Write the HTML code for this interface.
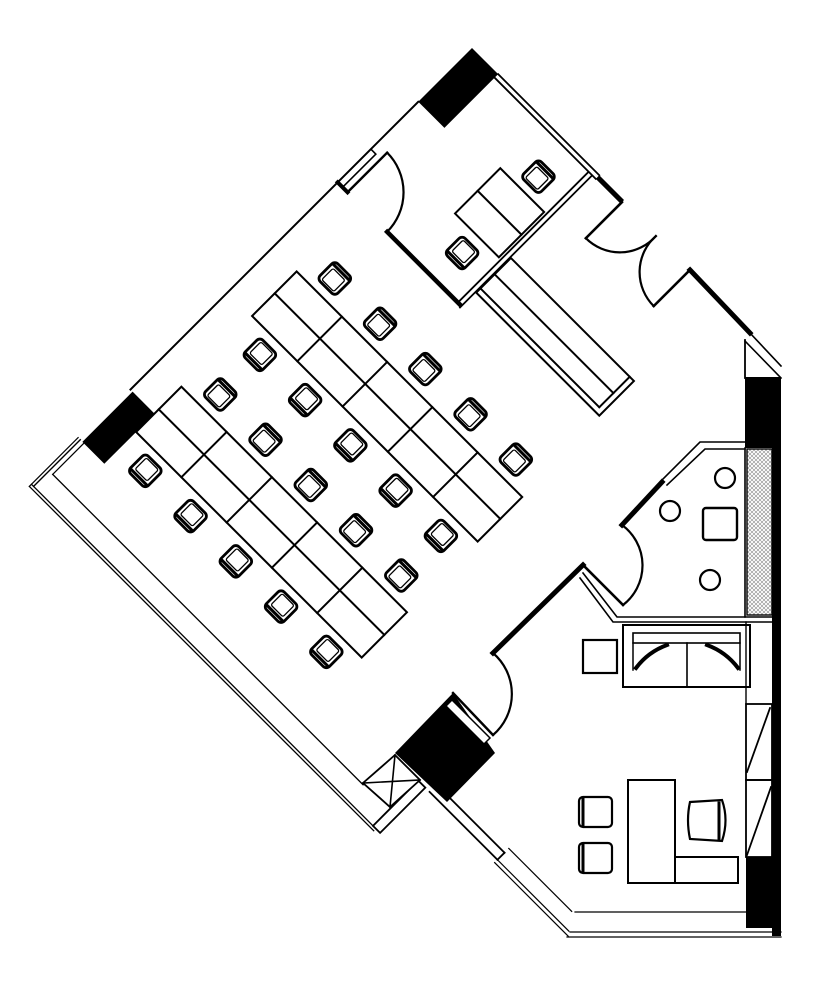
<!DOCTYPE html>
<html><head><meta charset="utf-8"><style>html,body{margin:0;padding:0;background:#fff}svg{display:block}</style></head>
<body>
<svg width="818" height="984" viewBox="0 0 818 984" xmlns="http://www.w3.org/2000/svg">
<defs>
<pattern id="hat" width="4" height="4" patternUnits="userSpaceOnUse">
<path d="M0,0 L4,4 M4,0 L0,4" stroke="#888" stroke-width="0.6"/>
</pattern>
<g id="ch">
<rect x="-12.5" y="-12.5" width="25" height="25" rx="4.5" fill="#fff" stroke="#000" stroke-width="2.8"/>
<rect x="-8.5" y="-10" width="17" height="16" rx="2" fill="none" stroke="#000" stroke-width="1.3"/>
<path d="M-11,9 L11,9" stroke="#000" stroke-width="3"/>
</g>
</defs>
<g fill="none" stroke="#000" stroke-linecap="square">

<g transform="translate(472,48) rotate(45)">
<rect x="0" y="0" width="37" height="76" fill="#000" stroke="none"/>
<line x1="37" y1="0" x2="180" y2="0" stroke-width="1.8"/>
<line x1="37" y1="5" x2="180" y2="5" stroke-width="1.8"/>
<rect x="180" y="0" width="35" height="5" fill="#000" stroke="none"/>
<line x1="215" y1="3" x2="215" y2="54" stroke-width="2.6"/>
<line x1="311" y1="3" x2="311" y2="54" stroke-width="2.6"/>
<path d="M215,54 A48,48 0 0 0 263,3" stroke-width="2.2"/>
<path d="M311,54 A48,48 0 0 1 263,3" stroke-width="2.2"/>
<line x1="0" y1="76" x2="0" y2="483" stroke-width="2"/>
<rect x="0" y="143" width="7" height="47" stroke-width="1.6"/>
<line x1="0" y1="190" x2="14" y2="190" stroke-width="4"/>
<line x1="14" y1="190" x2="14" y2="134" stroke-width="2.4"/>
<path d="M14,134 A56,56 0 0 1 70,190" stroke-width="2.2"/>
<line x1="70" y1="190" x2="173" y2="190" stroke-width="4.5"/>
<line x1="170" y1="6" x2="170" y2="190" stroke-width="1.8"/>
<line x1="175" y1="6" x2="175" y2="192" stroke-width="1.8"/>
<rect x="105" y="65" width="62" height="64" stroke-width="2"/>
<line x1="105" y1="97" x2="167" y2="97" stroke-width="2"/>
<use href="#ch" transform="translate(138,44) rotate(180)"/>
<use href="#ch" transform="translate(138,152)"/>
<rect x="176" y="121" width="174" height="49" stroke-width="2"/>
<line x1="176" y1="144" x2="344" y2="144" stroke-width="2"/>
<line x1="176" y1="164" x2="344" y2="164" stroke-width="2"/>
<line x1="344" y1="121" x2="344" y2="164" stroke-width="2"/>
<g stroke-width="2">
<rect x="34" y="282" width="319" height="63"/>
<line x1="34" y1="313" x2="353" y2="313"/>
<line x1="98" y1="282" x2="98" y2="345"/><line x1="162" y1="282" x2="162" y2="345"/>
<line x1="226" y1="282" x2="226" y2="345"/><line x1="290" y1="282" x2="290" y2="345"/>
<rect x="34" y="445" width="319" height="64"/>
<line x1="34" y1="477" x2="353" y2="477"/>
<line x1="98" y1="445" x2="98" y2="509"/><line x1="162" y1="445" x2="162" y2="509"/>
<line x1="226" y1="445" x2="226" y2="509"/><line x1="290" y1="445" x2="290" y2="509"/>
</g>
<use href="#ch" transform="translate(66,260) rotate(180)"/><use href="#ch" transform="translate(130,260) rotate(180)"/><use href="#ch" transform="translate(194,260) rotate(180)"/><use href="#ch" transform="translate(258,260) rotate(180)"/><use href="#ch" transform="translate(322,260) rotate(180)"/>
<use href="#ch" transform="translate(67,367)"/><use href="#ch" transform="translate(131,367)"/><use href="#ch" transform="translate(195,367)"/><use href="#ch" transform="translate(259,367)"/><use href="#ch" transform="translate(323,367)"/>
<use href="#ch" transform="translate(67,423) rotate(180)"/><use href="#ch" transform="translate(131,423) rotate(180)"/><use href="#ch" transform="translate(195,423) rotate(180)"/><use href="#ch" transform="translate(259,423) rotate(180)"/><use href="#ch" transform="translate(323,423) rotate(180)"/>
<use href="#ch" transform="translate(68,530)"/><use href="#ch" transform="translate(132,530)"/><use href="#ch" transform="translate(196,530)"/><use href="#ch" transform="translate(260,530)"/><use href="#ch" transform="translate(324,530)"/>
<rect x="3" y="483" width="31" height="71" fill="#000" stroke="none"/>
<line x1="0" y1="554" x2="0" y2="620" stroke-width="1.4"/>
<line x1="-3" y1="554" x2="-3" y2="623" stroke-width="1.2"/>
<line x1="-3" y1="620" x2="480" y2="620" stroke-width="1.3"/>
<line x1="-3" y1="623" x2="484" y2="623" stroke-width="1.3"/>
<line x1="5" y1="598" x2="444" y2="598" stroke-width="1.3"/>
<line x1="5" y1="554" x2="5" y2="598" stroke-width="1.2"/>
<rect x="480" y="556" width="10" height="64" stroke-width="1.8"/>
<line x1="496" y1="546" x2="592" y2="546" stroke-width="1.8"/>
<line x1="496" y1="556" x2="592" y2="556" stroke-width="1.8"/>
<line x1="592" y1="546" x2="592" y2="556" stroke-width="1.8"/>
<line x1="592" y1="556" x2="693" y2="556" stroke-width="1.2"/>
<line x1="592" y1="560" x2="696" y2="560" stroke-width="1.2"/>
<line x1="592" y1="540" x2="681" y2="540" stroke-width="1.2"/>
</g>

<line x1="690" y1="270" x2="750" y2="333" stroke-width="5"/>
<line x1="750" y1="333" x2="781" y2="366" stroke-width="1.6"/>
<line x1="745" y1="341" x2="781" y2="378" stroke-width="1.6"/>
<line x1="745" y1="340" x2="745" y2="378" stroke-width="1.8"/>
<rect x="745" y="377" width="36" height="71" fill="#000" stroke="none"/>
<rect x="747" y="449" width="25" height="166" fill="url(#hat)" stroke="#000" stroke-width="1.4"/>
<rect x="772" y="448" width="9" height="488" fill="#000" stroke="none"/>
<line x1="745" y1="448" x2="745" y2="617" stroke-width="1.6"/>

<polyline points="745,442 700,442 662,480" stroke-width="1.6"/>
<polyline points="745,449 705,449 667,485" stroke-width="1.6"/>
<line x1="662" y1="482" x2="622" y2="525" stroke-width="5"/>
<path d="M622,525 A50,50 0 0 1 623,605" stroke-width="2.2"/>
<line x1="623" y1="605" x2="583" y2="565" stroke-width="2.6"/>
<line x1="583" y1="565" x2="493" y2="653" stroke-width="5"/>
<polyline points="583,573 617,617 772,617" stroke-width="1.6"/>
<polyline points="580,578 613,622 772,622" stroke-width="1.6"/>
<circle cx="725" cy="478" r="10" stroke-width="2.2"/>
<circle cx="670" cy="511" r="10" stroke-width="2.2"/>
<circle cx="710" cy="580" r="10" stroke-width="2.2"/>
<rect x="703" y="508" width="34" height="32" rx="3" stroke-width="2.4"/>

<rect x="583" y="640" width="34" height="33" stroke-width="2.2"/>
<rect x="623" y="625" width="127" height="62" stroke-width="2"/>
<rect x="633" y="633" width="107" height="10" stroke-width="1.6"/>
<line x1="633" y1="643" x2="633" y2="670" stroke-width="1.5"/>
<line x1="740" y1="643" x2="740" y2="670" stroke-width="1.5"/>
<line x1="687" y1="643" x2="687" y2="687" stroke-width="1.6"/>
<path d="M636,668 Q648,652 667,645" stroke-width="4"/>
<path d="M738,668 Q726,652 707,645" stroke-width="4"/>
<line x1="746" y1="622" x2="746" y2="704" stroke-width="1.4"/>

<rect x="746" y="704" width="26" height="76" stroke-width="1.8"/>
<line x1="747" y1="772" x2="770" y2="708" stroke-width="1.8"/>
<rect x="746" y="780" width="26" height="77" stroke-width="1.8"/>
<line x1="747" y1="855" x2="771" y2="787" stroke-width="1.8"/>
<rect x="746" y="857" width="35" height="71" fill="#000" stroke="none"/>
<rect x="628" y="780" width="47" height="103" stroke-width="2"/>
<rect x="675" y="857" width="63" height="26" stroke-width="2"/>
<g stroke-width="2.2">
<rect x="579" y="797" width="33" height="30" rx="4"/>
<line x1="583" y1="799" x2="583" y2="825" stroke-width="3"/>
<rect x="579" y="843" width="33" height="30" rx="4"/>
<line x1="583" y1="845" x2="583" y2="871" stroke-width="3"/>
<path d="M690,802 L722,800 Q729,820 722,841 L690,839 Q686,820 690,802 Z"/>
<line x1="719" y1="803" x2="719" y2="839" stroke-width="3"/>
</g>
<line x1="575" y1="912" x2="746" y2="912" stroke-width="1.2"/>
<line x1="570" y1="932" x2="781" y2="932" stroke-width="1.2"/>
<line x1="567" y1="937" x2="781" y2="937" stroke-width="1.2"/>

<polygon points="453,693 495,753 447,802 395,753" fill="#000" stroke="none"/>
<polygon points="452,700 490,738 484,744 446,706" fill="#fff" stroke="#000" stroke-width="1.5"/>
<line x1="453" y1="693" x2="493" y2="735" stroke-width="2.4"/>
<path d="M493,735 A54,54 0 0 0 493,653" stroke-width="2.2"/>
<polygon points="395,755 420,780 390,807 363,783" fill="#fff" stroke="#000" stroke-width="1.8"/>
<line x1="395" y1="755" x2="390" y2="807" stroke-width="1.6"/>
<line x1="363" y1="783" x2="420" y2="780" stroke-width="1.6"/>
</g>
</svg>
</body></html>
